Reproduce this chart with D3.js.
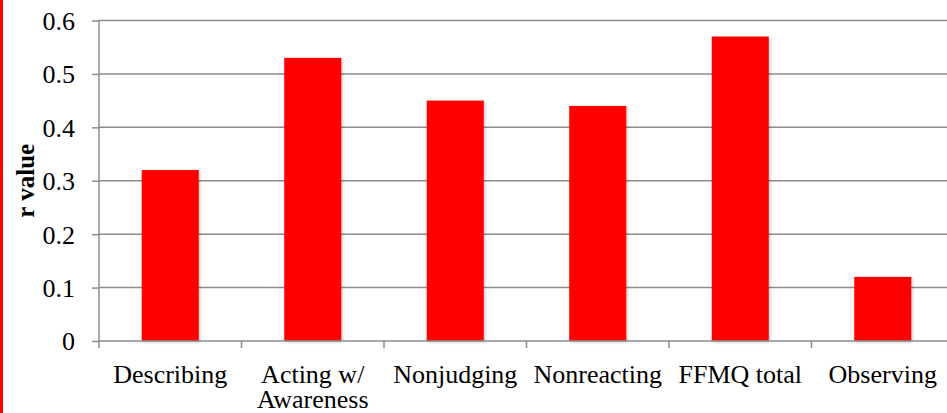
<!DOCTYPE html>
<html>
<head>
<meta charset="utf-8">
<script src="https://cdn.jsdelivr.net/npm/d3@7"></script>
<style>
  html, body { margin: 0; padding: 0; background: #fff; }
  svg { display: block; }
  svg text { font-family: "Liberation Serif", "Times New Roman", serif; }
</style>
</head>
<body>
<script>
// FFMQ facets and their correlation (r) values
const categories = ["Describing", "Acting w/ Awareness", "Nonjudging", "Nonreacting", "FFMQ total", "Observing"];
const rValues = [0.32, 0.53, 0.45, 0.44, 0.57, 0.12];
const yTicks = [0, 0.1, 0.2, 0.3, 0.4, 0.5, 0.6];
const yTitle = "r value";

const W = 947, H = 413;
const margin = { left: 99, top: 20.5 };
const baseY = 341;
const plotRight = 954; // last category band runs past the window edge

const svg = d3.select("body").append("svg")
  .attr("width", W).attr("height", H);

// soft shadow under the bars
const defs = svg.append("defs");
const f = defs.append("filter").attr("id", "shadow")
  .attr("x", "-20%").attr("y", "-20%").attr("width", "140%").attr("height", "140%");
f.append("feDropShadow").attr("dx", 1).attr("dy", 1)
  .attr("stdDeviation", 1.6).attr("flood-color", "#000").attr("flood-opacity", 0.28);

// red rule on the left edge
svg.append("rect").attr("x", 0).attr("y", 0).attr("width", 3).attr("height", H).attr("fill", "#ff0000");

const x = d3.scaleBand().domain(categories)
  .range([margin.left, plotRight]).paddingInner(0.6).paddingOuter(0.3);
const y = d3.scaleLinear().domain([0, 0.6]).range([baseY, margin.top]);

const grid = "#8c8c8c";

// horizontal gridlines
svg.append("g").selectAll("line").data(yTicks.filter(d => d > 0)).join("line")
  .attr("x1", margin.left).attr("x2", W)
  .attr("y1", d => y(d)).attr("y2", d => y(d))
  .attr("stroke", grid).attr("stroke-width", 1.5);

// y axis
const yAxis = svg.append("g").attr("transform", `translate(${margin.left},0)`)
  .call(d3.axisLeft(y).tickValues(yTicks).tickFormat(d => d === 0 ? "0" : d3.format(".1f")(d))
    .tickSize(7).tickPadding(17));
yAxis.attr("font-family", null);
yAxis.select(".domain").attr("stroke", grid).attr("stroke-width", 1.5).attr("d", `M0,${y(0.6)}V${y(0)}`);
yAxis.selectAll(".tick line").attr("stroke", grid).attr("stroke-width", 1.5);
yAxis.selectAll(".tick text")
  .style("font-size", "26px").attr("fill", "#000").attr("dy", "0.34em");

// bars
svg.append("g").selectAll("rect").data(categories).join("rect")
  .attr("x", (d) => x(d))
  .attr("width", x.bandwidth())
  .attr("y", (d, i) => y(rValues[i]))
  .attr("height", (d, i) => y(0) - y(rValues[i]))
  .attr("fill", "#ff0000")
  .attr("filter", "url(#shadow)");

// x axis baseline with category dividers
const step = x.step();
const bounds = d3.range(categories.length + 1).map(i => margin.left + i * step);
svg.append("line").attr("x1", margin.left).attr("x2", W)
  .attr("y1", y(0)).attr("y2", y(0)).attr("stroke", grid).attr("stroke-width", 1.5);
svg.append("g").selectAll("line").data(bounds).join("line")
  .attr("x1", d => d).attr("x2", d => d)
  .attr("y1", y(0)).attr("y2", y(0) + 7)
  .attr("stroke", grid).attr("stroke-width", 1.5);

// category labels, wrapped where a name is wider than its band
const wrapped = {
  "Acting w/ Awareness": ["Acting w/", "Awareness"]
};
const labelRows = categories.flatMap(c =>
  (wrapped[c] || [c]).map((t, i) => ({ cat: c, text: t, row: i })));
svg.append("g").selectAll("text").data(labelRows).join("text")
  .attr("x", d => x(d.cat) + x.bandwidth() / 2)
  .attr("y", d => 383 + d.row * 25)
  .attr("text-anchor", "middle")
  .style("font-size", "26px").attr("fill", "#000")
  .text(d => d.text);

// y axis title
svg.append("text")
  .attr("transform", `translate(34,${(y(0) + y(0.6)) / 2}) rotate(-90)`)
  .attr("text-anchor", "middle")
  .style("font-size", "25px").style("font-weight", "bold")
  .attr("fill", "#000")
  .text(yTitle);
</script>
</body>
</html>
